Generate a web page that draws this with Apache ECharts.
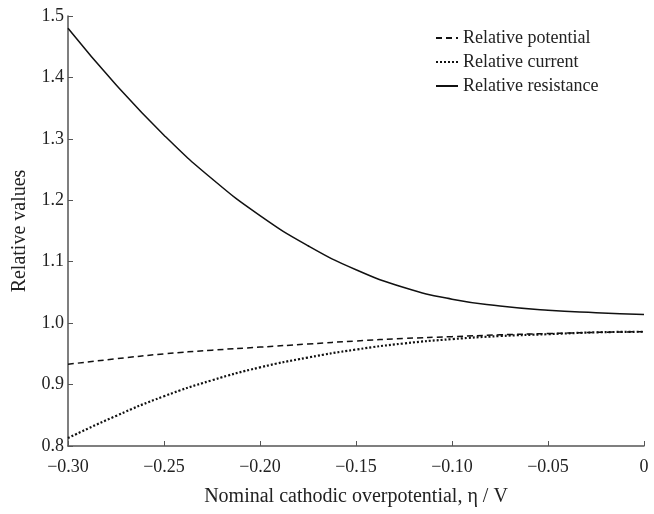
<!DOCTYPE html>
<html>
<head>
<meta charset="utf-8">
<script src="https://cdn.jsdelivr.net/npm/echarts@6/dist/echarts.min.js"></script>
<style>
  html, body { margin: 0; padding: 0; background: #fff; }
  #chart { width: 654px; height: 514px; }
</style>
</head>
<body>
<div id="chart"></div>
<script>
// overpotential (V)
var eta = [-0.30, -0.275, -0.25, -0.225, -0.20, -0.175, -0.15, -0.125, -0.10, -0.075, -0.05, -0.025, 0];
var potential = [0.933, 0.942, 0.950, 0.956, 0.961, 0.966, 0.971, 0.975, 0.978, 0.981, 0.983, 0.985, 0.986];
var current = [0.813, 0.849, 0.881, 0.907, 0.928, 0.944, 0.957, 0.967, 0.974, 0.979, 0.982, 0.985, 0.986];
var resistance = [1.480, 1.388, 1.306, 1.235, 1.175, 1.126, 1.087, 1.058, 1.039, 1.028, 1.021, 1.017, 1.014];

var serif = '"Liberation Serif", "DejaVu Serif", serif';

function pairs(ys) {
  return eta.map(function (x, i) { return [x, ys[i]]; });
}

var chart = echarts.init(document.getElementById('chart'));

chart.setOption({
  animation: false,
  backgroundColor: '#fff',
  grid: { left: 68, right: 10, top: 16, bottom: 68 },
  legend: {
    orient: 'vertical',
    left: 430,
    top: 24,
    itemWidth: 22,
    itemHeight: 12,
    itemGap: 6,
    itemStyle: { opacity: 0 },
    textStyle: { fontFamily: serif, fontSize: 18, color: '#222' },
    data: ['Relative potential', 'Relative current', 'Relative resistance']
  },
  xAxis: {
    type: 'value',
    min: -0.3,
    max: 0,
    interval: 0.05,
    name: 'Nominal cathodic overpotential, η / V',
    nameLocation: 'middle',
    nameGap: 41,
    nameTextStyle: { fontFamily: serif, fontSize: 20, color: '#222' },
    axisLine: { onZero: false, lineStyle: { color: '#555', width: 1.5 } },
    axisTick: { inside: true, length: 5, lineStyle: { color: '#555' } },
    splitLine: { show: false },
    axisLabel: {
      fontFamily: serif, fontSize: 18, color: '#222', margin: 12,
      formatter: function (v) {
        if (Math.abs(v) < 1e-9) return '0';
        return '\u2212' + Math.abs(v).toFixed(2);
      }
    }
  },
  yAxis: {
    type: 'value',
    min: 0.8,
    max: 1.5,
    interval: 0.1,
    name: 'Relative values',
    nameLocation: 'middle',
    nameGap: 38,
    nameTextStyle: { fontFamily: serif, fontSize: 20, color: '#222' },
    axisLine: { show: true, onZero: false, lineStyle: { color: '#555', width: 1.5 } },
    axisTick: { show: true, inside: true, length: 5, lineStyle: { color: '#555' } },
    splitLine: { show: false },
    axisLabel: {
      fontFamily: serif, fontSize: 18, color: '#222', margin: 4,
      formatter: function (v) { return v.toFixed(1); }
    }
  },
  series: [
    {
      name: 'Relative potential',
      type: 'line',
      smooth: true,
      symbol: 'none',
      data: pairs(potential),
      lineStyle: { color: '#111', width: 1.5, type: [6, 4] },
      itemStyle: { color: '#111' }
    },
    {
      name: 'Relative current',
      type: 'line',
      smooth: true,
      symbol: 'none',
      data: pairs(current),
      lineStyle: { color: '#111', width: 2.2, type: [2, 2] },
      itemStyle: { color: '#111' }
    },
    {
      name: 'Relative resistance',
      type: 'line',
      smooth: true,
      symbol: 'none',
      data: pairs(resistance),
      lineStyle: { color: '#111', width: 1.5, type: 'solid' },
      itemStyle: { color: '#111' }
    }
  ]
});
</script>
</body>
</html>
